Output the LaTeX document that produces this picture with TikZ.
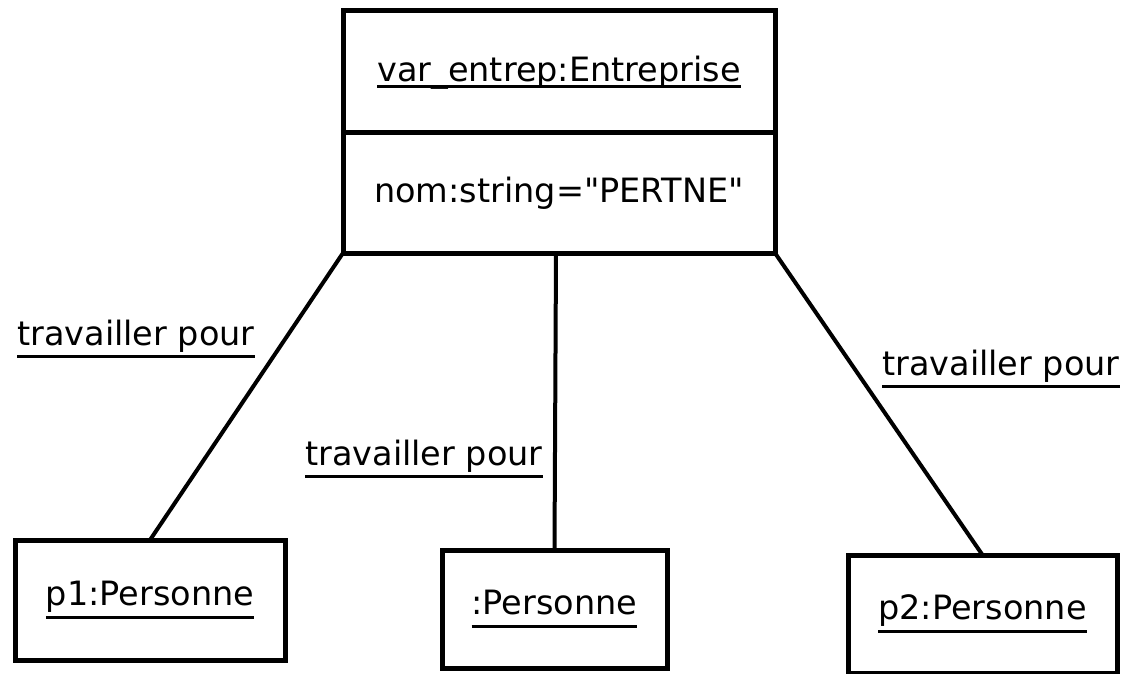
\documentclass[tikz,border=0pt]{standalone}
\usepackage{fontspec}
\setmainfont{DejaVu Sans}[Ligatures=TeXOff]
\usetikzlibrary{positioning}

% underlined object / role names
\newcommand{\ulabel}[2][3pt]{\vtop{\hbox{\vphantom{p}#2}\kern#1\hrule height 3pt}}

\begin{document}
\begin{tikzpicture}[
    x=1pt, y=-1pt,
    objbox/.style={rectangle, draw=black, line width=5pt, outer sep=0pt, inner sep=0pt, font=\fontsize{33.5}{40}\selectfont},
    rolelabel/.style={inner sep=0pt, font=\fontsize{33.5}{40}\selectfont},
    link/.style={line width=4pt}
]
\useasboundingbox (0,0) rectangle (1135,674);

\node[objbox, minimum width=432pt, minimum height=122pt] (ent) at (559,72) {\ulabel[-4pt]{var\_entrep:Entreprise}};
\node[objbox, minimum width=432pt, minimum height=120pt, below=0pt of ent] (entattr) {nom:string="PERTNE"};

\node[objbox, minimum width=270pt, minimum height=120pt] (p1) at (150,600) {\ulabel{p1:Personne}};
\node[objbox, minimum width=225pt, minimum height=118pt] (anon) at (554.5,609) {\ulabel{:Personne}};
\node[objbox, minimum width=269pt, minimum height=118pt] (p2) at (982.5,614) {\ulabel{p2:Personne}};

\draw[link] (entattr.south west) -- (p1.north);
\draw[link] ([xshift=-3pt]entattr.south) -- (anon.north);
\draw[link] (entattr.south east) -- (p2.north);

\node[rolelabel, anchor=base west] (r1) at (17,345) {\ulabel{travailler pour}};
\node[rolelabel, anchor=base west] (r2) at (305,465) {\ulabel{travailler pour}};
\node[rolelabel, anchor=base west] (r3) at (882,375) {\ulabel{travailler pour}};
\end{tikzpicture}
\end{document}
